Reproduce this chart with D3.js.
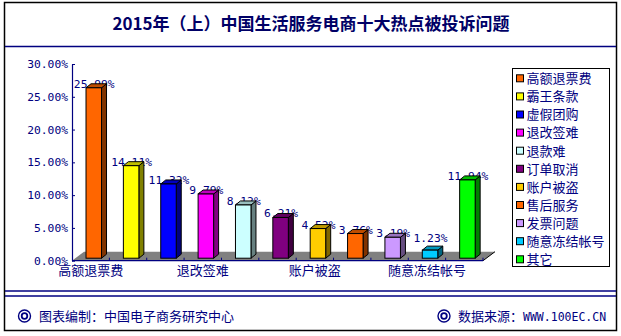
<!DOCTYPE html>
<html><head><meta charset="utf-8">
<script src="https://cdn.jsdelivr.net/npm/d3@7"></script>
<style>
html,body{margin:0;padding:0;background:#fff;}
svg{display:block;}
</style></head>
<body>
<script>
const title = "2015年（上）中国生活服务电商十大热点被投诉问题";
const categories = ["高额退票费","霸王条款","虚假团购","退改签难","退款难","订单取消","账户被盗","售后服务","发票问题","随意冻结帐号","其它"];
const values = [25.99, 14.11, 11.32, 9.79, 8.12, 6.21, 4.52, 3.76, 3.19, 1.23, 11.94];
const colors = ["#FF6600","#FFFF00","#0000FF","#FF00FF","#CCFFFF","#800080","#FFCC00","#FF6600","#CC99FF","#00CCFF","#00FF00"];
const yTicks = [0,5,10,15,20,25,30];
const footerLeft = "图表编制：中国电子商务研究中心";
const footerRight = "数据来源：";
const footerUrl = "WWW.100EC.CN";

const W = 621, H = 336;
const navy = "#000080";
const cjk = "'Noto Sans CJK SC','Noto Sans',sans-serif";
const mono = "'DejaVu Sans Mono','Liberation Mono',monospace";

const svg = d3.select("body").append("svg").attr("width", W).attr("height", H);
svg.append("rect").attr("width", W).attr("height", H).attr("fill", "#fff");

// frame
svg.append("rect").attr("x", 4.5).attr("y", 2.5).attr("width", 612).attr("height", 328)
  .attr("fill", "none").attr("stroke", "#000").attr("stroke-width", 1.5);
svg.append("line").attr("x1", 5).attr("x2", 616).attr("y1", 46.5).attr("y2", 46.5).attr("stroke", navy).attr("stroke-width", 1.5);
svg.append("line").attr("x1", 5).attr("x2", 616).attr("y1", 291).attr("y2", 291).attr("stroke", navy).attr("stroke-width", 1.5);
svg.append("line").attr("x1", 5).attr("x2", 616).attr("y1", 296).attr("y2", 296).attr("stroke", navy).attr("stroke-width", 1.5);

// title
svg.append("text").attr("x", 311).attr("y", 30).attr("text-anchor", "middle")
  .attr("font-family", cjk).attr("font-size", 17).attr("font-weight", "bold")
  .attr("fill", "#000066").text(title);

// scales
const x0 = 72, x1 = 483, y0 = 260.7, yTop = 64;
const x = d3.scaleBand().domain(categories).range([x0, x1]).paddingInner(0).paddingOuter(0);
const y = d3.scaleLinear().domain([0, 30]).range([y0, yTop]);
const bw = x.bandwidth();
const dx = 5, dy = -4;
const lift = 2.5;

// floor
const fdx = 12, fdy = -9;
svg.append("polygon")
  .attr("points", [[x0, y0], [x0 + fdx, y0 + fdy], [x1 + fdx, y0 + fdy], [x1, y0]].map(p => p.join(",")).join(" "))
  .attr("fill", "#808080");
svg.append("line").attr("x1", x1).attr("y1", y0).attr("x2", x1 + fdx).attr("y2", y0 + fdy)
  .attr("stroke", "#000").attr("stroke-width", 1);

// y axis
const yAxis = d3.axisLeft(y).tickValues(yTicks).tickSizeInner(-3).tickSizeOuter(0).tickPadding(4)
  .tickFormat(d => d.toFixed(2) + "%");
const gy = svg.append("g").attr("transform", `translate(${x0},0)`).call(yAxis);
gy.select(".domain").attr("stroke", navy).attr("stroke-width", 1.2);
gy.selectAll(".tick line").attr("stroke", navy);
gy.selectAll(".tick text").attr("fill", navy).attr("font-family", mono).attr("font-size", 11.3);

// x axis
svg.append("line").attr("x1", x0).attr("x2", x1).attr("y1", y0).attr("y2", y0).attr("stroke", navy).attr("stroke-width", 1.2);
const boundaries = categories.slice(1).map(c => x(c)).concat([x1]);
svg.selectAll(".xtick").data(boundaries).enter().append("line")
  .attr("x1", d => d).attr("x2", d => d).attr("y1", y0).attr("y2", y0 - 3)
  .attr("stroke", navy);
const xAxis = d3.axisBottom(x).tickValues(categories.filter((d, i) => i % 3 === 0)).tickSize(0).tickPadding(5);
const gx = svg.append("g").attr("transform", `translate(0,${y0})`).call(xAxis);
gx.select(".domain").remove();
gx.selectAll(".tick text").attr("fill", navy).attr("font-family", cjk).attr("font-size", 13);

// value labels (drawn behind bars)
const bx = c => x(c) + bw * 0.375;
const barW = bw * 0.415;
const frontTop = v => y(v) - lift;
const labelMin = 241.5;
svg.selectAll(".vlabel").data(values).enter().append("text")
  .attr("x", (d, i) => bx(categories[i]) + barW / 2 + 0.5)
  .attr("y", d => Math.min(frontTop(d), labelMin))
  .attr("text-anchor", "middle").attr("font-family", mono).attr("font-size", 11.3)
  .attr("fill", navy).text(d => d.toFixed(2) + "%");

// bars
const shade = (c, k) => { const r = d3.rgb(c); return d3.rgb(r.r * k, r.g * k, r.b * k).toString(); };
const bars = svg.selectAll(".bar").data(values).enter().append("g");
bars.each(function (v, i) {
  const g = d3.select(this);
  const L = bx(categories[i]), R = L + barW, T = frontTop(v), B = frontTop(0);
  const pts = a => a.map(p => p.join(",")).join(" ");
  g.append("polygon").attr("points", pts([[R, T], [R + dx, T + dy], [R + dx, B + dy], [R, B]]))
    .attr("fill", shade(colors[i], 0.5)).attr("stroke", "#000").attr("stroke-width", 1);
  g.append("polygon").attr("points", pts([[L, T], [L + dx, T + dy], [R + dx, T + dy], [R, T]]))
    .attr("fill", shade(colors[i], 0.75)).attr("stroke", "#000").attr("stroke-width", 1);
  g.append("rect").attr("x", L).attr("y", T).attr("width", barW).attr("height", B - T)
    .attr("fill", colors[i]).attr("stroke", "#000").attr("stroke-width", 1);
});

// legend
svg.append("rect").attr("x", 512.5).attr("y", 68.5).attr("width", 97).attr("height", 198)
  .attr("fill", "#fff").attr("stroke", "#000").attr("stroke-width", 1);
const ly = d3.scaleLinear().domain([0, categories.length - 1]).range([78.3, 259.3]);
const lg = svg.selectAll(".leg").data(categories).enter().append("g")
  .attr("transform", (d, i) => `translate(0,${ly(i)})`);
lg.append("rect").attr("x", 516.5).attr("y", -3.5).attr("width", 7).attr("height", 7)
  .attr("fill", (d, i) => colors[i]).attr("stroke", "#000").attr("stroke-width", 1);
lg.append("text").attr("x", 526.5).attr("y", 4.8).attr("font-family", cjk).attr("font-size", 13)
  .attr("fill", navy).text(d => d);

// footer
function bullseye(cx, cy) {
  svg.append("circle").attr("cx", cx).attr("cy", cy).attr("r", 6).attr("fill", "none").attr("stroke", navy).attr("stroke-width", 1.4);
  svg.append("circle").attr("cx", cx).attr("cy", cy).attr("r", 2.8).attr("fill", "none").attr("stroke", navy).attr("stroke-width", 1.8);
}
bullseye(24.5, 316);
svg.append("text").attr("x", 39).attr("y", 321).attr("font-family", cjk).attr("font-size", 13)
  .attr("fill", navy).text(footerLeft);
bullseye(444, 316);
const fr = svg.append("text").attr("x", 458).attr("y", 321).attr("fill", navy);
fr.append("tspan").attr("font-family", cjk).attr("font-size", 13).text(footerRight);
fr.append("tspan").attr("font-family", mono).attr("font-size", 11.5).text(footerUrl);
</script>
</body></html>
